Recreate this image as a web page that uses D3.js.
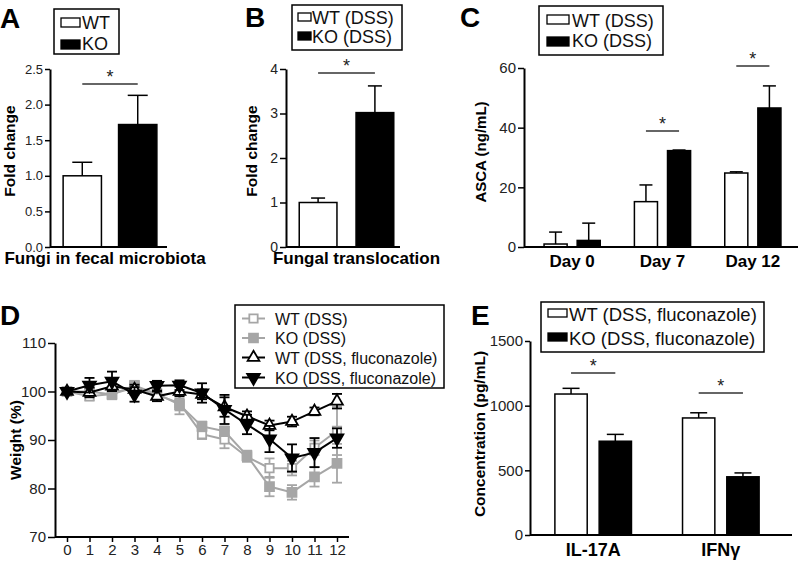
<!DOCTYPE html>
<html><head><meta charset="utf-8">
<script src="https://cdn.jsdelivr.net/npm/d3@7"></script>
<style>body{margin:0;background:#fff} svg{display:block}</style>
</head><body>
<svg id="c" width="800" height="561"></svg>
<script>
// ---------------- DATA ----------------
// Panel A
const aCategories = ["Fungi in fecal microbiota"];
const aSeries = ["WT", "KO"];
const aWT = [1.0];
const aWTErr = [0.19];
const aKO = [1.72];
const aKOErr = [0.41];
const aSig = [2.29];
const aYTicks = [0, 0.5, 1.0, 1.5, 2.0, 2.5];

// Panel B
const bCategories = ["Fungal translocation"];
const bSeries = ["WT (DSS)", "KO (DSS)"];
const bWT = [1.0];
const bWTErr = [0.1];
const bKO = [3.02];
const bKOErr = [0.6];
const bSig = [3.91];
const bYTicks = [0, 1, 2, 3, 4];

// Panel C
const cCategories = ["Day 0", "Day 7", "Day 12"];
const cSeries = ["WT (DSS)", "KO (DSS)"];
const cWT = [1.0, 15.2, 24.8];
const cWTErr = [4.0, 5.6, 0.4];
const cKO = [2.2, 32.3, 46.6];
const cKOErr = [5.8, 0.2, 7.4];
const cSig = [null, 38.9, 60.7];
const cYTicks = [0, 20, 40, 60];

// Panel D
const dDays = [0, 1, 2, 3, 4, 5, 6, 7, 8, 9, 10, 11, 12];
const dSeriesNames = ["WT (DSS)", "KO (DSS)", "WT (DSS, fluconazole)", "KO (DSS, fluconazole)"];
const dWT = [100, 99.0, 99.5, 100.8, 99.3, 97.6, 91.2, 90.1, 86.5, 84.2, 84.2, 88.4, 91.9];
const dWTErr = [0.5, 0.8, 1.0, 1.0, 1.0, 1.5, 1.0, 1.8, 1.0, 2.0, 1.5, 1.5, 5.0];
const dKO = [100, 100, 99.4, 101.2, 99.5, 97.3, 92.8, 91.8, 86.8, 80.4, 79.2, 82.4, 85.2];
const dKOErr = [0.5, 1.0, 1.0, 1.0, 1.0, 2.0, 1.0, 1.0, 1.0, 2.0, 1.5, 2.0, 4.0];
const dWTF = [100, 99.8, 101.1, 100.4, 99.0, 100.0, 99.4, 96.8, 94.9, 93.0, 93.8, 95.9, 98.0];
const dWTFErr = [0.5, 1.0, 1.0, 1.0, 1.0, 1.0, 1.0, 2.0, 1.0, 1.0, 1.0, 0.8, 1.5];
const dKOF = [100, 101.3, 102.1, 99.4, 101.2, 101.3, 99.7, 96.3, 93.2, 90.2, 86.3, 87.4, 90.4];
const dKOFErr = [0.5, 1.5, 2.0, 1.5, 1.0, 1.0, 2.0, 3.0, 2.0, 2.7, 2.8, 3.0, 2.0];
const dYTicks = [70, 80, 90, 100, 110];

// Panel E
const eCategories = ["IL-17A", "IFNγ"];
const eSeries = ["WT (DSS, fluconazole)", "KO (DSS, fluconazole)"];
const eWT = [1090, 905];
const eWTErr = [44, 40];
const eKO = [725, 450];
const eKOErr = [53, 30];
const eSig = [1253, 1098];
const eYTicks = [0, 500, 1000, 1500];

// ---------------- DRAWING ----------------
const FONT = "'Liberation Sans', Arimo, Arial, Helvetica, sans-serif";
const GRAY = "#a6a6a6";
const svg = d3.select("#c").attr("font-family", FONT);
svg.append("rect").attr("width", 800).attr("height", 561).attr("fill", "#fff");

function yAxis(g, y, ticks, fmt, x, fs, tickLen) {
  const ax = g.append("g").attr("transform", `translate(${x},0)`)
    .call(d3.axisLeft(y).tickValues(ticks).tickFormat(fmt).tickSize(tickLen).tickSizeOuter(0).tickPadding(2));
  ax.attr("font-family", FONT).attr("font-size", fs);
  ax.select(".domain").attr("stroke", "#000").attr("stroke-width", 2);
  ax.selectAll(".tick line").attr("stroke", "#000").attr("stroke-width", 1.5);
  ax.selectAll(".tick text").attr("fill", "#222");
  return ax;
}

function panelLetter(t, x, y) {
  svg.append("text").attr("x", x).attr("y", y).attr("font-size", 28).attr("font-weight", "bold").text(t);
}

function yTitle(t, x, y, fs) {
  svg.append("text").attr("transform", `translate(${x},${y}) rotate(-90)`)
    .attr("text-anchor", "middle").attr("font-size", fs).attr("font-weight", "bold").text(t);
}

function barLegend(names, L) {
  const g = svg.append("g");
  g.append("rect").attr("x", L.box[0]).attr("y", L.box[1]).attr("width", L.box[2]).attr("height", L.box[3])
    .attr("fill", "#fff").attr("stroke", "#000").attr("stroke-width", 1.5);
  names.forEach((n, i) => {
    g.append("rect").attr("x", L.sx).attr("y", L.sy[i]).attr("width", L.sw).attr("height", L.sh)
      .attr("fill", i === 0 ? "#fff" : "#000").attr("stroke", "#000").attr("stroke-width", 1.3);
    g.append("text").attr("x", L.tx).attr("y", L.ty[i]).attr("font-size", L.fs).attr("fill", "#111").text(n);
  });
}

function barPanel(cfg) {
  const g = svg.append("g");
  const y = d3.scaleLinear().domain(cfg.yDomain).range(cfg.yRange);
  const x0 = d3.scaleBand().domain(cfg.categories).range(cfg.xRange)
    .paddingInner(cfg.padInner).paddingOuter(cfg.padOuter);
  const names = cfg.series.map(s => s.name);
  const x1 = d3.scaleBand().domain(names).range([0, x0.bandwidth()]).paddingInner(cfg.seriesPad);
  const bw = x1.bandwidth();
  cfg.series.forEach((s, si) => {
    const data = cfg.categories.map((c, i) => ({ c, v: s.values[i], e: s.errors[i] }));
    const cx = d => x0(d.c) + x1(s.name) + bw / 2;
    g.selectAll(null).data(data).join("rect")
      .attr("x", d => x0(d.c) + x1(s.name)).attr("y", d => y(d.v))
      .attr("width", bw).attr("height", d => y(0) - y(d.v))
      .attr("fill", si === 0 ? "#fff" : "#000").attr("stroke", "#000").attr("stroke-width", 1.5);
    g.selectAll(null).data(data).join("line")
      .attr("x1", cx).attr("x2", cx).attr("y1", d => y(d.v)).attr("y2", d => y(d.v + d.e))
      .attr("stroke", "#000").attr("stroke-width", 1.5);
    g.selectAll(null).data(data).join("line")
      .attr("x1", d => cx(d) - cfg.cap / 2).attr("x2", d => cx(d) + cfg.cap / 2)
      .attr("y1", d => y(d.v + d.e)).attr("y2", d => y(d.v + d.e))
      .attr("stroke", "#000").attr("stroke-width", 1.5);
  });
  g.append("line").attr("x1", cfg.xRange[0]).attr("x2", cfg.axisEnd).attr("y1", y(0)).attr("y2", y(0))
    .attr("stroke", "#000").attr("stroke-width", 2);
  yAxis(g, y, cfg.yTicks, cfg.fmt, cfg.xRange[0], cfg.tickFs, cfg.tickLen);
  cfg.sig.forEach((v, i) => {
    if (v == null) return;
    const c = cfg.categories[i];
    const xa = x0(c) + x1(names[0]) + bw / 2, xb = x0(c) + x1(names[1]) + bw / 2;
    g.append("line").attr("x1", xa).attr("x2", xb).attr("y1", y(v)).attr("y2", y(v))
      .attr("stroke", "#333").attr("stroke-width", 1.5);
    g.append("text").attr("x", (xa + xb) / 2).attr("y", y(v) - 1).attr("text-anchor", "middle")
      .attr("font-size", 18).attr("fill", "#222").text("*");
  });
  g.selectAll(null).data(cfg.categories).join("text")
    .attr("x", d => x0(d) + x0.bandwidth() / 2 + cfg.labelDx).attr("y", cfg.labelY)
    .attr("text-anchor", "middle").attr("font-weight", "bold").attr("font-size", cfg.labelFs).text(d => d);
  barLegend(names, cfg.legend);
}

// Panel A
panelLetter("A", 0, 28);
yTitle("Fold change", 15, 151, 15.5);
barPanel({
  categories: aCategories,
  series: [{ name: aSeries[0], values: aWT, errors: aWTErr }, { name: aSeries[1], values: aKO, errors: aKOErr }],
  yDomain: [0, 2.5], yRange: [247, 69], yTicks: aYTicks, fmt: d3.format(".1f"),
  xRange: [50, 170], padInner: 0, padOuter: 0.14, seriesPad: 0.309, axisEnd: 167, cap: 20,
  tickFs: 13, tickLen: 5, sig: aSig, labelDx: -5, labelY: 264, labelFs: 17,
  legend: { box: [54, 9, 65, 45], sx: 61, sw: 19, sh: 9, sy: [18, 40], tx: 82, ty: [29, 50], fs: 18 }
});

// Panel B
panelLetter("B", 245, 27);
yTitle("Fold change", 257, 151, 15.5);
barPanel({
  categories: bCategories,
  series: [{ name: bSeries[0], values: bWT, errors: bWTErr }, { name: bSeries[1], values: bKO, errors: bKOErr }],
  yDomain: [0, 4], yRange: [247, 69], yTicks: bYTicks, fmt: d3.format("d"),
  xRange: [286, 407], padInner: 0, padOuter: 0.14, seriesPad: 0.336, axisEnd: 400, cap: 14,
  tickFs: 14, tickLen: 6, sig: bSig, labelDx: 10, labelY: 264, labelFs: 17,
  legend: { box: [292, 5, 110, 45], sx: 298, sw: 13, sh: 8, sy: [13, 32], tx: 312, ty: [24, 43], fs: 18 }
});

// Panel C
panelLetter("C", 460, 27);
yTitle("ASCA (ng/mL)", 486, 152, 15);
barPanel({
  categories: cCategories,
  series: [{ name: cSeries[0], values: cWT, errors: cWTErr }, { name: cSeries[1], values: cKO, errors: cKOErr }],
  yDomain: [0, 60], yRange: [247, 68], yTicks: cYTicks, fmt: d3.format("d"),
  xRange: [524, 801], padInner: 0.378, padOuter: 0.222, seriesPad: 0.303, axisEnd: 798, cap: 13,
  tickFs: 15, tickLen: 6, sig: cSig, labelDx: 0, labelY: 267, labelFs: 17,
  legend: { box: [539, 6, 124, 49], sx: 547, sw: 22, sh: 9, sy: [15, 37], tx: 572, ty: [26.5, 47], fs: 18 }
});

// Panel E
panelLetter("E", 471, 325);
yTitle("Concentration (pg/mL)", 485, 434, 15.5);
barPanel({
  categories: eCategories,
  series: [{ name: eSeries[0], values: eWT, errors: eWTErr }, { name: eSeries[1], values: eKO, errors: eKOErr }],
  yDomain: [0, 1500], yRange: [535, 341], yTicks: eYTicks, fmt: d3.format("d"),
  xRange: [530, 784], padInner: 0.4, padOuter: 0.195, seriesPad: 0.27, axisEnd: 792, cap: 17,
  tickFs: 15, tickLen: 5, sig: eSig, labelDx: 0, labelY: 556, labelFs: 18,
  legend: { box: [541, 302, 223, 50], sx: 548, sw: 19, sh: 8, sy: [309, 333], tx: 569, ty: [321, 345], fs: 18.5 }
});

// Panel D
panelLetter("D", 0, 325);
yTitle("Weight (%)", 21, 440, 15.5);
{
  const g = svg.append("g");
  const x = d3.scaleLinear().domain([0, 12]).range([67, 337]);
  const y = d3.scaleLinear().domain([70, 110]).range([537, 343]);
  const series = [
    { name: dSeriesNames[0], v: dWT, e: dWTErr, color: GRAY, sym: d3.symbolSquare, size: 70, fill: "#fff", rot: 0 },
    { name: dSeriesNames[1], v: dKO, e: dKOErr, color: GRAY, sym: d3.symbolSquare, size: 80, fill: GRAY, rot: 0 },
    { name: dSeriesNames[2], v: dWTF, e: dWTFErr, color: "#000", sym: d3.symbolTriangle, size: 60, fill: "#fff", rot: 0 },
    { name: dSeriesNames[3], v: dKOF, e: dKOFErr, color: "#000", sym: d3.symbolTriangle, size: 70, fill: "#000", rot: 180 }
  ];
  const line = d3.line().x((d, i) => x(dDays[i])).y(d => y(d));
  series.forEach(s => {
    const data = dDays.map((d, i) => ({ d, v: s.v[i], e: s.e[i] }));
    g.append("path").datum(s.v).attr("d", line).attr("fill", "none").attr("stroke", s.color).attr("stroke-width", 2);
    g.selectAll(null).data(data).join("line")
      .attr("x1", d => x(d.d)).attr("x2", d => x(d.d)).attr("y1", d => y(d.v - d.e)).attr("y2", d => y(d.v + d.e))
      .attr("stroke", s.color).attr("stroke-width", 1.8);
    [-1, 1].forEach(sg => {
      g.selectAll(null).data(data).join("line")
        .attr("x1", d => x(d.d) - 5).attr("x2", d => x(d.d) + 5)
        .attr("y1", d => y(d.v + sg * d.e)).attr("y2", d => y(d.v + sg * d.e))
        .attr("stroke", s.color).attr("stroke-width", 1.8);
    });
    g.selectAll(null).data(data).join("path")
      .attr("transform", d => `translate(${x(d.d)},${y(d.v)}) rotate(${s.rot})`)
      .attr("d", d3.symbol(s.sym, s.size))
      .attr("fill", s.fill).attr("stroke", s.color).attr("stroke-width", 1.8);
  });
  g.append("line").attr("x1", 55).attr("x2", 349).attr("y1", y(70)).attr("y2", y(70))
    .attr("stroke", "#000").attr("stroke-width", 2);
  const xa = g.append("g").attr("transform", `translate(0,${y(70)})`)
    .call(d3.axisBottom(x).tickValues(dDays).tickFormat(d3.format("d")).tickSize(5).tickSizeOuter(0).tickPadding(2));
  xa.attr("font-family", FONT).attr("font-size", 15);
  xa.select(".domain").remove();
  xa.selectAll(".tick line").attr("stroke", "#000").attr("stroke-width", 1.5);
  xa.selectAll(".tick text").attr("fill", "#222");
  yAxis(g, y, dYTicks, d3.format("d"), 55, 15, 7);
  const L = g.append("g");
  L.append("rect").attr("x", 235).attr("y", 305).attr("width", 209).attr("height", 83)
    .attr("fill", "#fff").attr("stroke", "#000").attr("stroke-width", 1.5);
  const rows = [318.5, 338, 357.5, 377.5];
  series.forEach((s, i) => {
    L.append("line").attr("x1", 242).attr("x2", 265).attr("y1", rows[i]).attr("y2", rows[i])
      .attr("stroke", s.color).attr("stroke-width", 2);
    L.append("path").attr("transform", `translate(253.5,${rows[i]}) rotate(${s.rot})`)
      .attr("d", d3.symbol(s.sym, s.size)).attr("fill", s.fill).attr("stroke", s.color).attr("stroke-width", 1.8);
    L.append("text").attr("x", 275).attr("y", rows[i] + 6).attr("font-size", 16).attr("fill", "#111").text(s.name);
  });
}
</script>
</body></html>
